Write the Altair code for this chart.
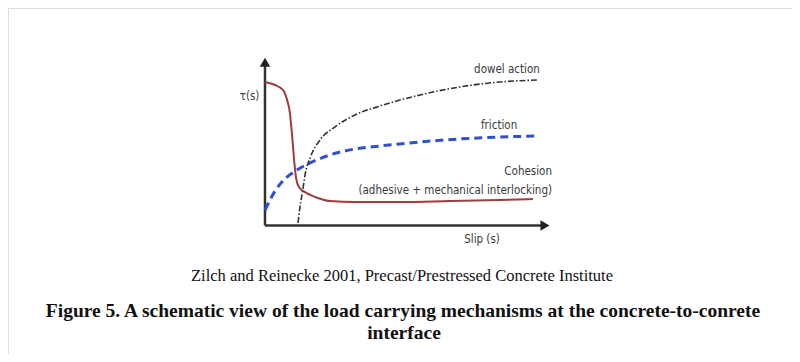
import altair as alt
import pandas as pd

# --- data (schematic units) ---
cohesion_x = [0, 0.36, 0.64, 0.79, 0.89, 0.96, 1.04, 1.11, 1.21, 1.43, 1.79, 2.32, 3.21, 4.82, 6.61, 8.39, 9.57]
cohesion_y = [8.97, 8.78, 8.47, 7.84, 7.03, 5.78, 4.09, 2.97, 2.41, 2.09, 1.78, 1.53, 1.47, 1.47, 1.53, 1.59, 1.66]

friction_x = [0, 0.36, 0.71, 1.14, 1.61, 2.32, 3.21, 4.11, 5.54, 6.96, 8.39, 9.71]
friction_y = [0.97, 2.16, 2.91, 3.47, 3.91, 4.41, 4.78, 4.97, 5.22, 5.41, 5.53, 5.59]

dowel_x = [1.18, 1.25, 1.36, 1.43, 1.61, 1.96, 2.5, 3.21, 4.11, 5.54, 6.96, 8.39, 9.71]
dowel_y = [0.16, 1.16, 2.34, 3.16, 4.22, 5.34, 6.16, 6.91, 7.47, 8.16, 8.66, 8.97, 9.09]

axis_x_end = 10.0
axis_y_end = 10.2

label_texts = ["dowel action", "friction", "Cohesion", "(adhesive + mechanical interlocking)", "Slip (s)"]
label_x = [8.64, 8.36, 10.25, 10.25, 7.75]
label_y = [9.72, 6.22, 3.34, 2.16, -0.91]
label_align = ["center", "center", "right", "right", "center"]

source_text = "Zilch and Reinecke 2001, Precast/Prestressed Concrete Institute"
caption_lines = ["Figure 5. A schematic view of the load carrying mechanisms at the concrete-to-conrete", "interface"]

W, H = 784, 346
xs = alt.Scale(domain=[-257 / 28, (W - 257) / 28], nice=False, zero=False)
ys = alt.Scale(domain=[(217.5 - H) / 16, 217.5 / 16], nice=False, zero=False)

def curve(xv, yv):
    return pd.DataFrame({"s": xv, "t": yv})

X = alt.X("s:Q", scale=xs, axis=None)
Y = alt.Y("t:Q", scale=ys, axis=None)

coh = alt.Chart(curve(cohesion_x, cohesion_y)).mark_line(
    color="#a03c3c", strokeWidth=2, interpolate="monotone").encode(x=X, y=Y)
fri = alt.Chart(curve(friction_x, friction_y)).mark_line(
    color="#2f4fd4", strokeWidth=3, strokeDash=[8, 5], interpolate="monotone").encode(x=X, y=Y)
dow = alt.Chart(curve(dowel_x, dowel_y)).mark_line(
    color="#333333", strokeWidth=1.6, strokeDash=[6, 2, 1.5, 2], interpolate="monotone").encode(x=X, y=Y)

xaxis = alt.Chart(pd.DataFrame({"s": [0, axis_x_end], "t": [0, 0]})).mark_line(
    color="#333333", strokeWidth=2.5).encode(x=X, y=Y)
yaxis = alt.Chart(pd.DataFrame({"s": [0, 0], "t": [0, axis_y_end]})).mark_line(
    color="#333333", strokeWidth=2.5).encode(x=X, y=Y)
xarrow = alt.Chart(pd.DataFrame({"s": [axis_x_end], "t": [0]})).mark_point(
    shape="triangle-right", filled=True, color="#222222", size=110, opacity=1).encode(x=X, y=Y)
yarrow = alt.Chart(pd.DataFrame({"s": [0], "t": [axis_y_end]})).mark_point(
    shape="triangle-up", filled=True, color="#222222", size=110, opacity=1).encode(x=X, y=Y)

LABEL_FONT = "DejaVu Sans Condensed, DejaVu Sans, sans-serif"
lab_df = pd.DataFrame({"s": label_x, "t": label_y, "txt": label_texts, "al": label_align})
labels = []
for al in ["center", "right"]:
    labels.append(alt.Chart(lab_df[lab_df.al == al]).mark_text(
        font=LABEL_FONT, fontSize=11.5, color="#3a3a3a", align=al, baseline="middle"
    ).encode(x=X, y=Y, text="txt:N"))

tau = alt.Chart(pd.DataFrame({"s": [-0.2], "t": [8.03], "txt": ["τ(s)"]})).mark_text(
    font=LABEL_FONT, fontSize=11.5, color="#444444", align="right", baseline="middle"
).encode(x=X, y=Y, text="txt:N")

src = alt.Chart(alt.Data(values=[{}])).mark_text(
    font="Liberation Serif", fontSize=16.5, color="#111111", align="center", baseline="middle"
).encode(x=alt.value(394), y=alt.value(268), text=alt.value(source_text))
cap1 = alt.Chart(alt.Data(values=[{}])).mark_text(
    font="Liberation Serif", fontSize=19.5, fontWeight="bold", color="#111111", align="center", baseline="middle"
).encode(x=alt.value(395), y=alt.value(303), text=alt.value(caption_lines[0]))
cap2 = alt.Chart(alt.Data(values=[{}])).mark_text(
    font="Liberation Serif", fontSize=19.5, fontWeight="bold", color="#111111", align="center", baseline="middle"
).encode(x=alt.value(396), y=alt.value(325), text=alt.value(caption_lines[1]))

chart = alt.layer(xaxis, yaxis, coh, fri, dow, xarrow, yarrow, *labels, tau, src, cap1, cap2).properties(
    width=W, height=H, autosize=alt.AutoSizeParams(type="none"), padding=0
).configure_view(stroke=None).configure(background="white")

chart.save("out.html", embed_options={"renderer": "svg", "actions": False})
